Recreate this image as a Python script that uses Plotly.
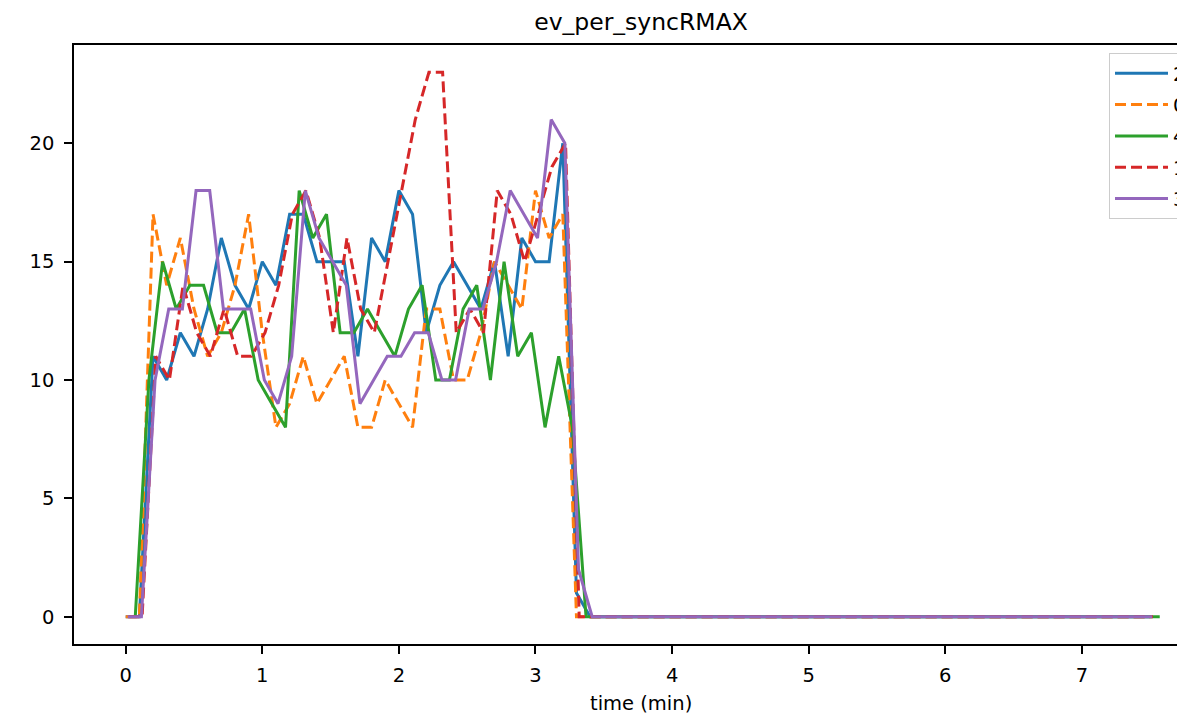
import numpy as np
import plotly.graph_objects as go

TITLE = "ev_per_syncRMAX"
XLABEL = "time (min)"
STEP = 0.1  # sampling interval in minutes

# series names (legend order)
NAMES = ["2", "0", "4", "1", "3"]
# start time (min) of each series' sample grid
START_2 = 0.0
START_0 = 0.0
START_4 = 0.07
START_1 = 0.02
START_3 = 0.015

SERIES_2 = [0, 0, 11, 10, 12, 11, 13, 16, 14, 13,
            15, 14, 17, 17, 15, 15, 15, 11, 16, 15,
            18, 17, 12, 14, 15, 14, 13, 15, 11, 16,
            15, 15, 20, 1, 0, 0, 0, 0, 0, 0,
            0, 0, 0, 0, 0, 0, 0, 0, 0, 0,
            0, 0, 0, 0, 0, 0, 0, 0, 0, 0,
            0, 0, 0, 0, 0, 0, 0, 0, 0, 0,
            0, 0, 0, 0, 0, 0]
SERIES_0 = [0, 0, 17, 14, 16, 13, 11, 12, 14, 17,
            12, 8, 9, 11, 9, 10, 11, 8, 8, 10,
            9, 8, 13, 13, 10, 10, 12, 15, 14, 13,
            18, 16, 17, 0, 0, 0, 0, 0, 0, 0,
            0, 0, 0, 0, 0, 0, 0, 0, 0, 0,
            0, 0, 0, 0, 0, 0, 0, 0, 0, 0,
            0, 0, 0, 0, 0, 0, 0, 0, 0, 0,
            0, 0, 0, 0, 0, 0]
SERIES_4 = [0, 10, 15, 13, 14, 14, 12, 12, 13, 10,
            9, 8, 18, 16, 17, 12, 12, 13, 12, 11,
            13, 14, 10, 10, 13, 14, 10, 15, 11, 12,
            8, 11, 8, 0, 0, 0, 0, 0, 0, 0,
            0, 0, 0, 0, 0, 0, 0, 0, 0, 0,
            0, 0, 0, 0, 0, 0, 0, 0, 0, 0,
            0, 0, 0, 0, 0, 0, 0, 0, 0, 0,
            0, 0, 0, 0, 0, 0]
SERIES_1 = [0, 0, 11, 10, 14, 12, 11, 13, 11, 11,
            12, 14, 17, 18, 16, 12, 16, 13, 12, 15,
            18, 21, 23, 23, 12, 13, 12, 18, 17, 15,
            17, 19, 20, 0, 0, 0, 0, 0, 0, 0,
            0, 0, 0, 0, 0, 0, 0, 0, 0, 0,
            0, 0, 0, 0, 0, 0, 0, 0, 0, 0,
            0, 0, 0, 0, 0, 0, 0, 0, 0, 0,
            0, 0, 0, 0, 0, 0]
SERIES_3 = [0, 0, 10, 13, 13, 18, 18, 13, 13, 13,
            10, 9, 11, 18, 16, 15, 14, 9, 10, 11,
            11, 12, 12, 10, 10, 13, 13, 15, 18, 17,
            16, 21, 20, 2, 0, 0, 0, 0, 0, 0,
            0, 0, 0, 0, 0, 0, 0, 0, 0, 0,
            0, 0, 0, 0, 0, 0, 0, 0, 0, 0,
            0, 0, 0, 0, 0, 0, 0, 0, 0, 0,
            0, 0, 0, 0, 0, 0]

X_TICKS = [0, 1, 2, 3, 4, 5, 6, 7]
Y_TICKS = [0, 5, 10, 15, 20]

COLORS = ["#1f77b4", "#ff7f0e", "#2ca02c", "#d62728", "#9467bd"]
DASHES = ["solid", "11px,5px", "solid", "11px,5px", "solid"]

series = [SERIES_2, SERIES_0, SERIES_4, SERIES_1, SERIES_3]
starts = [START_2, START_0, START_4, START_1, START_3]

FONT = "DejaVu Sans"
FS = 19.5

fig = go.Figure()
for name, vals, t0, col, dash in zip(NAMES, series, starts, COLORS, DASHES):
    t = t0 + STEP * np.arange(len(vals))
    fig.add_trace(go.Scatter(
        x=t, y=vals, mode="lines", name=name, legendgroup=name,
        line=dict(color=col, width=3, dash=dash),
    ))

# page body adds an 8px offset; figure is sized so the page matches 1185x717
W, H = 1177, 709
L, R, T, B = 66, 0, 37, 73
PW, PH = W - L - R, H - T - B

fig.update_layout(
    width=W, height=H,
    margin=dict(l=L, r=R, t=T, b=B, autoexpand=False),
    paper_bgcolor="white", plot_bgcolor="white",
    font=dict(family=FONT, size=FS, color="black"),
    title=dict(text=TITLE, x=633 / W, xref="container", xanchor="center",
               y=1 - 14 / H, yref="container", yanchor="middle",
               font=dict(family=FONT, size=23.5, color="black")),
    showlegend=True,
    legend=dict(x=(1101 - L) / PW, y=(636 - 45) / PH,
                xanchor="left", yanchor="top",
                bgcolor="rgba(255,255,255,0.8)", bordercolor="#cccccc",
                borderwidth=1, font=dict(family=FONT, size=FS),
                traceorder="grouped", tracegroupgap=3, itemwidth=53),
    xaxis=dict(range=[-0.3785, 7.755], tickvals=X_TICKS,
               showgrid=False, zeroline=False,
               showline=True, linecolor="black", linewidth=1.6, mirror=True,
               ticks="outside", ticklen=8, tickwidth=1.6, tickcolor="black",
               tickfont=dict(family=FONT, size=FS), ticklabelstandoff=5),
    yaxis=dict(range=[-1.15, 24.15], tickvals=Y_TICKS,
               showgrid=False, zeroline=False,
               showline=True, linecolor="black", linewidth=1.6, mirror=False,
               ticks="outside", ticklen=8, tickwidth=1.6, tickcolor="black",
               tickfont=dict(family=FONT, size=FS), ticklabelstandoff=6),
)

fig.add_annotation(text=XLABEL, xref="paper", yref="paper",
                   x=(633 - L) / PW, y=(636 - 695) / PH,
                   xanchor="center", yanchor="middle", showarrow=False,
                   font=dict(family=FONT, size=FS, color="black"))

fig.write_html("out.html")
